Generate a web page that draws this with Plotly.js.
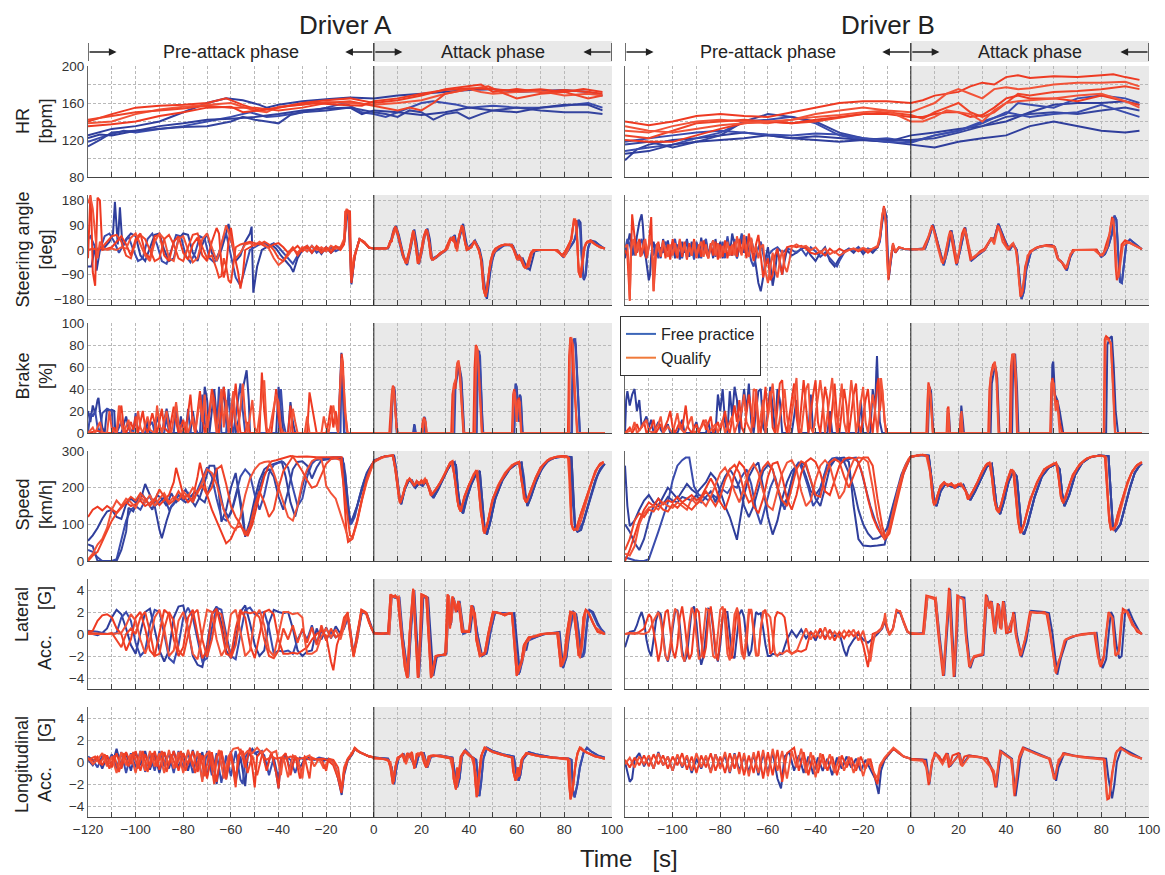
<!DOCTYPE html>
<html><head><meta charset="utf-8">
<script src="https://cdn.plot.ly/plotly-3.0.1.min.js"></script>
<style>html,body{margin:0;padding:0;background:#fff}#chart{width:1165px;height:875px}</style>
</head><body><div id="chart"></div>
<script>
// ---------- DATA (flat lists of time, value pairs) ----------
// Heart rate, Driver A
const A_HR_Q1=[-120,140,-110,148,-100,155,-90,157,-80,158,-70,160,-62,165,-55,158,-48,152,-40,155,-30,160,-20,163,-10,165,0,160,10,163,20,168,30,175,40,178,45,180,50,172,60,175,70,172,80,174,90,172,96,170];
const A_HR_Q2=[-120,138,-110,140,-100,148,-90,153,-80,156,-70,158,-60,160,-50,152,-45,150,-40,156,-30,158,-20,161,-10,160,0,158,10,160,20,163,30,170,40,175,45,172,50,170,60,172,70,173,80,168,90,170,96,168];
const A_HR_Q3=[-120,142,-110,146,-100,150,-90,152,-80,154,-70,157,-60,155,-50,155,-40,152,-30,155,-20,160,-10,162,0,157,5,155,10,152,15,155,20,152,25,160,30,170,40,175,48,178,55,170,60,165,70,170,80,172,90,165,96,168];
const A_HR_Q4=[-120,135,-110,137,-100,140,-90,146,-80,150,-70,155,-60,156,-55,150,-45,153,-35,157,-25,160,-15,158,-5,157,0,162,10,165,20,170,30,174,40,176,50,175,60,173,70,175,80,172,88,175,96,172];
const A_HR_F1=[-120,125,-110,132,-100,135,-90,140,-80,150,-70,160,-62,165,-55,163,-48,158,-45,155,-40,158,-30,162,-20,164,-10,166,0,165,10,168,20,170,30,172,40,174,50,175,60,172,70,173,80,174,90,172,96,168];
const A_HR_F2=[-120,118,-112,125,-105,130,-100,128,-90,132,-80,135,-70,140,-60,145,-52,150,-45,145,-40,146,-30,150,-20,155,-12,160,-5,150,0,148,5,145,10,150,15,155,20,160,25,162,30,160,35,158,40,155,50,157,60,155,70,155,80,157,90,160,96,155];
const A_HR_F3=[-120,113,-115,120,-110,128,-100,130,-90,132,-80,134,-70,135,-60,140,-55,145,-50,142,-45,140,-40,138,-35,147,-30,150,-20,152,-10,155,0,150,5,148,10,145,15,152,20,150,25,142,30,148,35,150,40,143,45,148,50,152,60,155,70,152,80,150,90,150,96,148];
const A_HR_F4=[-120,122,-115,126,-110,125,-100,130,-90,135,-80,138,-70,142,-60,143,-50,145,-40,148,-30,152,-20,154,-10,155,-5,148,0,152,10,150,20,147,30,150,40,155,50,152,60,150,70,155,80,158,90,158,96,152];
// Heart rate, Driver B
const B_HR_Q1=[-120,140,-110,136,-100,140,-90,146,-80,148,-70,146,-60,145,-50,150,-40,155,-30,160,-20,162,-10,162,0,160,5,163,10,168,15,170,20,172,25,178,30,182,35,180,40,188,45,190,50,187,60,189,70,188,80,190,85,191,90,188,96,185];
const B_HR_Q2=[-120,130,-110,128,-100,135,-90,140,-80,142,-70,140,-60,138,-50,142,-40,148,-30,152,-20,155,-10,152,0,150,5,155,10,160,15,170,20,175,25,170,30,165,35,175,40,177,45,175,50,176,60,180,70,182,80,182,90,183,96,178];
const B_HR_Q3=[-120,125,-110,122,-100,130,-90,138,-80,140,-70,142,-60,140,-50,138,-40,140,-30,144,-20,148,-10,150,0,147,5,143,10,150,15,155,20,160,25,150,30,145,35,150,40,160,45,170,50,168,60,172,70,173,80,175,90,178,96,175];
const B_HR_Q4=[-120,120,-110,118,-100,118,-90,125,-80,132,-70,138,-60,140,-50,138,-40,142,-30,145,-20,148,-10,148,0,145,5,145,10,148,15,150,20,150,25,145,30,147,35,155,40,165,45,168,50,165,60,165,70,162,80,168,90,162,96,158];
const B_HR_Q5=[-120,135,-110,130,-100,128,-90,132,-80,136,-70,138,-60,140,-50,142,-40,145,-30,147,-20,150,-10,152,0,140,5,140,10,145,15,152,20,150,25,148,30,140,35,152,40,160,45,162,50,163,60,165,70,168,80,170,90,162,96,155];
const B_HR_F1=[-120,98,-115,110,-110,115,-100,120,-90,122,-80,125,-70,128,-60,125,-50,122,-40,124,-30,122,-20,120,-10,118,0,125,10,128,20,132,30,135,40,140,45,145,50,150,60,158,70,160,80,160,90,162,96,158];
const B_HR_F2=[-120,108,-110,112,-100,115,-90,122,-80,128,-70,140,-60,142,-50,145,-40,138,-30,125,-20,120,-10,122,0,118,10,125,20,130,30,140,40,148,45,160,50,158,60,155,70,165,80,168,90,165,96,160];
const B_HR_F3=[-120,115,-110,118,-100,112,-90,118,-80,125,-70,140,-60,148,-50,145,-40,140,-30,128,-20,122,-10,120,0,120,10,122,20,128,30,135,40,145,50,148,60,150,70,148,80,152,90,155,96,152];
const B_HR_F4=[-120,105,-110,108,-100,115,-90,118,-80,120,-70,122,-60,125,-50,122,-40,120,-30,118,-20,120,-10,118,0,115,10,112,20,118,30,122,40,125,50,135,60,140,70,135,80,130,90,128,96,130];
const B_HR_F5=[-120,118,-110,122,-100,125,-90,128,-80,130,-70,128,-60,126,-50,125,-40,127,-30,126,-20,122,-10,118,0,117,10,125,20,130,30,138,40,150,50,145,60,148,70,150,80,158,90,150,96,145];

// Steering angle, Driver A (pre-attack / attack)
const A_ST_Qp1=[-120,-30,-119.5,120,-119,200,-118.5,100,-118,-80,-117,-130,-116.5,20,-116,190,-115,180,-114.5,60,-114,0,-112,5,-110,10,-108,30,-106,50,-104,20,-102,-20,-100,40,-98,60,-96,-10,-94,-30,-92,50,-90,55,-88,-20,-86,-40,-84,30,-82,50,-80,-10,-78,-35,-76,20,-74,45,-72,-20,-70,-40,-68,30,-66,80,-65,60,-64,-50,-63,-100,-62,-60,-61,30,-60,80,-59,20,-58,-40,-57,-80,-56,-140,-55,-90,-54,0,-52,10,-50,20,-48,25,-46,15,-44,10,-42,20,-40,25,-38,10,-36,-10,-34,0,-32,15,-30,-5,-28,10,-26,-10,-24,15,-22,0,-20,10,-18,-10,-16,10,-14,0,-12.5,20,-12,140,-11,145,-10,140,-9.4,-120,-8,-20,-6,40,-4,30,-2,10,0,5];
const A_ST_Qp2=[-120,170,-119,195,-118,150,-117,60,-116,-30,-115,30,-114,10,-112,0,-110,5,-108,0,-106,10,-104,5,-102,45,-100,60,-98,20,-96,-20,-94,-40,-92,30,-90,60,-88,40,-86,-30,-84,-40,-82,40,-80,50,-78,0,-76,-45,-74,-30,-72,40,-70,60,-68,10,-66,-40,-64,20,-62,90,-60,40,-58,-30,-56,-10,-54,20,-52,25,-50,15,-48,30,-46,20,-44,5,-42,-30,-40,-55,-38,-40,-36,-20,-34,5,-32,-10,-30,10,-28,-5,-26,15,-24,0,-22,10,-20,-5,-18,15,-16,5,-14,10,-12.5,40,-11.5,150,-10.5,130,-9.6,-100,-8.5,-30,-6,40,-4,28,-2,8,0,5];
const A_ST_Qp3=[-120,0,-118,5,-116,0,-114,10,-112,30,-110,50,-108,55,-106,30,-104,-20,-102,-30,-100,30,-98,55,-96,40,-94,0,-92,-40,-90,-30,-88,40,-86,55,-84,20,-82,-30,-80,-40,-78,10,-76,55,-74,60,-72,10,-70,-30,-68,-20,-66,-70,-65,-100,-64,-95,-63,-30,-62,-60,-61,-110,-60,-120,-59,-60,-58,10,-56,20,-54,25,-52,30,-50,25,-48,20,-46,30,-44,20,-42,0,-40,-30,-38,-40,-36,-10,-34,10,-32,-20,-30,5,-28,15,-26,-5,-24,10,-22,-10,-20,5,-18,0,-16,15,-14,5,-12.3,30,-11.3,145,-10.3,135,-9.5,-110,-8,-25,-6,38,-4,25,-2,8,0,5];
const A_ST_Fp1=[-120,-60,-118.5,-60,-117,20,-116.4,-75,-115,0,-113,10,-111,30,-109.5,60,-108.7,175,-107.5,20,-106.6,155,-105.5,10,-104,40,-102,60,-100,50,-98,-20,-96,-40,-94,10,-92,55,-90,60,-88,0,-86,-40,-84,-30,-82,40,-80,60,-78,55,-76,-10,-74,-40,-72,20,-70,60,-68,-10,-66,-40,-64,0,-62,60,-61,95,-60,40,-58,-40,-56,-20,-54,30,-52,60,-51.3,85,-50.6,-155,-49,-60,-47,0,-45,10,-43,20,-41,5,-39,-20,-37,-40,-35,-60,-33.8,-80,-32,-30,-30,0,-28,15,-26,-10,-24,10,-22,-15,-20,10,-18,-10,-16,5,-14,10,-12.5,25,-11.5,120,-10.8,140,-9.4,-125,-8,-20,-6,40,-4,28,-2,8,0,5];
const A_ST_Fp2=[-120,40,-119,50,-117,10,-115,0,-113,50,-111,60,-109,30,-107,-10,-105,20,-103,50,-101,0,-99,-40,-97,-30,-95,40,-93,60,-91,20,-89,-40,-87,-50,-85,0,-83,55,-81,50,-79,-20,-77,-45,-75,-10,-73,50,-71,40,-69,-30,-67,-45,-65,-10,-63,50,-62,60,-60,-20,-58,-100,-56,-130,-54,-60,-52,0,-50,10,-48,20,-46,25,-44,15,-42,25,-40,10,-38,-10,-36,-30,-34,-50,-32,-20,-30,10,-28,-5,-26,15,-24,-10,-22,5,-20,-5,-18,10,-16,-5,-14,5,-12.5,30,-11.2,135,-10.3,120,-9.3,-115,-8,-20,-6,40,-4,28,-2,8,0,5];
const A_ST_Qa1=[0,5,5,5,6,10,7,35,7.5,30,8,60,9,85,10,60,12,-10,13.5,-50,15,0,16.5,70,17.5,20,18.5,-50,19.5,-20,21,50,22,75,23,40,24,-30,25,-35,27,-20,28,-10,30,0,32,40,33,35,33.5,50,34.5,5,35.5,40,37,90,38,40,39,0,41,10,42,30,43,20,44,0,45,-30,46,-140,47,-170,48,-100,49,-40,50,-10,51,5,53,15,55,20,58,18,59,-5,60,-30,61,-20,62,-40,63,-60,64,-65,65,-40,66,-10,67,0,70,0,75,2,77,0,79,-20,80,-10,81,5,82,20,83,40,84,110,85,105,85.5,20,86,-80,86.8,-100,87.5,-50,88.5,10,89.5,30,91,35,93,20,95,10,97,5];
const A_ST_Qa2=[0,5,5.5,5,6.5,15,7.5,40,9.5,80,10.5,40,12.5,-30,14,-48,15.5,20,16.8,68,18,0,19,-48,20.5,10,21.5,60,22.5,70,24.5,-35,26,-28,29,-10,31,5,32.5,45,34,25,35,-5,36,60,37.5,85,38.5,20,40,5,42.5,30,44,5,45.5,-60,46.5,-160,47.5,-150,48.5,-70,50,-15,52,8,54,18,57,20,59,0,60.5,-35,62,-30,63.5,-65,65,-60,66.5,-10,68,0,76,0,78.5,-15,80,-25,81.5,0,82.5,25,83.5,80,84.5,115,85.2,60,85.8,-50,86.5,-90,87.2,-60,88,0,89,25,91,30,94,15,97,5];
const A_ST_Fa1=[0,5,6,8,7.5,38,9.3,88,10.5,55,12.5,-20,14,-55,15.5,5,17,75,18,25,19,-52,20,-15,21.5,55,22.5,78,23.5,40,24.5,-35,26,-30,28,-15,30.5,0,32.5,45,33.5,40,34,55,35,5,36,45,37.5,95,38.5,45,39.5,0,42.5,35,43.5,20,44.5,0,45.5,-40,46.5,-150,47.5,-178,48.5,-110,49.5,-40,51,-5,53,15,58,20,59.5,-5,61,-35,62.5,-30,64,-60,65.5,-72,66.5,-40,67.5,-5,70,0,77,0,79.5,-25,81,-10,82.5,10,84,30,85,60,86,110,86.8,100,87.5,-40,88.2,-110,89,-90,90,10,91,35,93,30,95,15,97,5];
const A_ST_Fa2=[0,5,6,5,7,30,8.5,80,9.5,70,12,-20,13.8,-52,16.8,72,18.8,-50,21.3,55,22.3,72,24.3,-32,27,-20,30,-2,32,35,33.8,52,34.8,5,37.3,92,39,5,42.3,32,44.3,5,46.3,-120,47.3,-172,48.5,-90,50.5,-10,55,18,58.5,15,60.3,-30,61.5,-25,63.3,-55,64.5,-70,66,-20,67.5,0,77,0,79,-20,80.5,-15,82,5,84.5,40,85.8,108,86.5,90,87.2,-20,88,-105,88.8,-95,89.8,0,91,30,93,28,96,10,97,5];
// Steering angle, Driver B
const B_ST_Qp1=[-120,0,-119,-20,-118,-180,-117.5,-60,-117,130,-116,50,-115,-10,-114,40,-113,-20,-112,35,-111,-30,-110,20,-109,120,-108.5,-40,-108,-150,-107,-20,-106,30,-105,-25,-104,35,-103,-30,-102,20,-101,-35,-100,40,-99,0,-98,-30,-97,35,-96,-25,-95,30,-94,-35,-93,25,-92,-20,-91,40,-90,-30,-89,20,-88,-25,-87,35,-86,-10,-85,-30,-84,25,-83,-20,-82,30,-81,-35,-80,20,-79,-25,-78,35,-77,-30,-76,15,-75,-20,-74,30,-73,-25,-72,40,-71,-10,-70,30,-69,-30,-68,60,-67,10,-66,-40,-65,20,-64,55,-63,-20,-62,-100,-61,-60,-60,-30,-59,-110,-58,-90,-57,-20,-56,5,-55,-50,-54,-90,-53,-20,-52,10,-50,15,-48,10,-46,15,-44,5,-42,-10,-40,-15,-38,-5,-36,-20,-34,5,-32,-10,-30,5,-28,-5,-26,0,-24,5,-22,-5,-20,5,-18,-10,-16,5,-14,10,-13,40,-12,120,-11.3,160,-10.5,100,-9.8,-50,-9.4,-110,-8.5,-40,-7.5,20,-6.5,-10,-5,10,-3,5,0,2];
const B_ST_Qp2=[-120,10,-119,20,-118.5,-50,-118,-185,-117.5,0,-116.5,40,-115.5,-20,-114.5,30,-113.5,-25,-112.5,10,-111.5,40,-110.5,-20,-109.5,50,-108.5,0,-108,-150,-107.5,-30,-106.5,25,-105,-20,-104,30,-102,-25,-101,20,-100,-20,-99,25,-98,-20,-97,40,-96,-10,-95,20,-94,-30,-93,10,-92,-20,-91,30,-90,-25,-89,10,-88,30,-87,-25,-86,20,-85,-30,-84,10,-83,35,-82,-20,-81,25,-80,-30,-79,15,-78,-10,-77,30,-76,-20,-75,20,-74,-20,-73,50,-72,5,-71,-20,-70,55,-69,0,-68,-25,-67,45,-66,-10,-65,15,-64,-30,-63,10,-62,20,-61,-80,-60,-120,-59,-60,-58,-10,-57,-70,-56,-100,-55,-40,-54,0,-53,-60,-52,-80,-51,-40,-50,10,-48,20,-46,10,-44,15,-42,0,-40,10,-38,-10,-36,5,-34,-15,-32,-5,-30,-20,-28,-10,-26,0,-24,5,-22,0,-20,8,-18,0,-16,5,-14,15,-13,50,-12,130,-11.2,155,-10.5,90,-10,-30,-9.5,-100,-8.5,-30,-7.5,25,-6.5,-5,-5,10,-3,5,0,2];
const B_ST_Fp1=[-120,-30,-119,20,-118,60,-117,10,-116,-20,-115,50,-114,100,-113,130,-112.5,90,-112,20,-111,-40,-110,-110,-109.5,-90,-109,-20,-108,30,-107,-10,-106,20,-105,-30,-104,40,-103,-10,-102,35,-101,-20,-100,30,-99,-30,-98,20,-97,-35,-96,30,-95,-10,-94,40,-93,-25,-92,30,-91,-20,-90,25,-89,-30,-88,45,-87,-10,-86,30,-85,-25,-84,20,-83,-30,-82,40,-81,-20,-80,30,-79,-30,-78,10,-77,40,-76,-20,-75,60,-74,20,-73,-30,-72,10,-71,40,-70,-10,-69,50,-68,-20,-67,40,-66,0,-65,-60,-64,-120,-63,-150,-62,-100,-61,-30,-60,10,-59,-50,-58,-130,-57,-80,-56,0,-55,-40,-54,-90,-53,-40,-52,0,-50,-20,-48,-10,-46,5,-44,10,-42,-20,-40,-40,-38,-10,-36,10,-34,-40,-32,-60,-30,-30,-28,-5,-26,5,-24,-10,-22,10,-20,-15,-18,5,-16,-10,-14,10,-13,35,-12,100,-11,150,-10.2,120,-9.8,20,-9.3,-105,-8.5,-50,-7.5,15,-6.5,-10,-5,8,-3,5,0,2];
const B_ST_Fp2=[-120,0,-119,40,-118,20,-117,-20,-116,30,-115,-10,-114,20,-113,40,-112,-10,-111,-30,-110,10,-109,40,-108,-20,-107,20,-106,-30,-105,10,-104,-10,-103,30,-102,10,-101,-25,-100,20,-99,40,-98,-10,-97,25,-96,-30,-95,15,-94,35,-93,-20,-92,10,-91,-35,-90,30,-89,0,-88,-30,-87,25,-86,40,-85,-15,-84,10,-83,35,-82,-25,-81,20,-80,-10,-79,30,-78,-30,-77,50,-76,0,-75,-20,-74,40,-73,-30,-72,20,-71,60,-70,10,-69,-20,-68,0,-67,-40,-66,-60,-65,-20,-64,10,-63,30,-62,-20,-61,-60,-60,-20,-58,0,-56,10,-54,-10,-52,5,-50,0,-48,-10,-46,5,-44,-20,-42,10,-40,-5,-38,-25,-36,-10,-34,-30,-32,-50,-31,-60,-30,-40,-28,-10,-26,5,-24,0,-22,10,-20,-5,-18,5,-16,0,-14,8,-13,30,-12,110,-11.3,155,-10.5,110,-9.8,0,-9.3,-100,-8.5,-45,-7.5,20,-6.5,-8,-5,8,-3,4,0,2];
const B_ST_Qa1=[0,2,5,3,6.5,30,7.5,50,9,90,10.5,50,12.5,-20,13.5,-50,15,10,16.5,70,17.5,20,19,-50,20.5,0,21.5,60,22.5,80,24,10,25,-35,27,-25,29,-5,31,5,33.5,40,34.5,30,35.5,50,36.5,90,37.5,70,39,40,41,0,42.5,20,44,5,45,-60,46,-170,47,-150,48,-60,50,-5,53,10,57,18,60,15,61.5,-30,63,-40,65,-70,66.5,-30,68,0,78,2,79.5,-20,81,-10,82,20,83.5,60,84.5,120,85.3,80,86,-60,86.5,-110,87.5,-70,88.5,20,90,35,92,25,95,10,97,3];
const B_ST_Qa2=[0,3,5.5,3,7,35,8.5,80,9.5,75,11,20,13,-45,14.5,-30,16,55,17,65,18.5,-10,19.5,-48,21,30,22.8,75,23.5,50,25.5,-30,28,-15,31,0,33,30,34,45,35,20,36,60,37,85,38.5,30,40.5,5,43,25,44.5,-10,45.5,-120,46.5,-165,47.5,-100,49,-20,52,5,56,15,60.5,10,62,-35,64,-50,65.5,-65,67,-15,69,0,77,0,79,-15,80.5,-20,82.5,10,84,90,85,115,85.8,40,86.5,-80,87.2,-100,88,-40,89,15,91,30,94,15,97,3];
const B_ST_Fa1=[0,2,6,5,7.5,40,9.3,92,11,40,13.8,-55,15.5,0,17,72,18,30,19.3,-55,21,10,22.8,82,24,20,25.5,-38,28,-20,31,0,33.8,42,35,40,36.8,95,38,65,39.5,35,41.5,0,43,22,44.5,0,45.5,-80,46.5,-178,47.5,-150,48.5,-70,50.5,-5,54,12,59,18,60.5,10,62,-35,63.5,-45,65.5,-75,67,-25,68.5,0,78,0,80,-25,81.5,-15,83,15,84.5,60,85.5,125,86.3,110,87,0,87.8,-115,88.6,-120,89.5,-40,90.5,25,92,38,94,25,97,3];

// Brake, Driver A
const A_BR_Qp1=[-120,0,-116,2,-113,0,-110,0,-109,5,-108,0,-106,25,-105,5,-104,0,-102,10,-101,3,-100,15,-99,0,-97,20,-96,5,-95,0,-93,18,-92,10,-91,0,-89,22,-88,5,-86,0,-84,24,-83,10,-82,0,-80,12,-79,0,-77,35,-76,10,-75,0,-73,38,-72,15,-71,0,-69,20,-68,40,-67,30,-66,5,-65,0,-63,42,-62,25,-61,5,-60,0,-58,45,-57,20,-56,0,-54,0,-53,10,-52,0,-48,0,-47,55,-46,20,-45,0,-43,0,-42,20,-41,40,-40,15,-39,0,-36,0,-35,25,-34,0,-28,0,-27,37,-26,25,-25,10,-24,0,-20,0,-19,10,-18,25,-17,5,-16,20,-15,0,-14,50,-13.5,72,-13,65,-12.2,20,-11.5,10,-11,0,0,0];
const A_BR_Qp2=[-120,0,-118,5,-117,0,-115,10,-114,0,-112,0,-111,20,-110,3,-108,0,-107,25,-106,8,-105,0,-103,12,-102,0,-100,0,-99,20,-98,5,-97,0,-95,15,-94,3,-92,0,-91,25,-90,8,-89,0,-87,20,-86,5,-85,0,-83,28,-82,8,-81,0,-79,10,-78,0,-76,15,-75,0,-73,30,-72,10,-71,35,-70,0,-68,35,-67,15,-66,0,-64,40,-63,5,-62,30,-61,0,-59,38,-58,10,-57,0,-55,45,-54,15,-53,0,-51,30,-50,5,-49,0,-46,48,-45,5,-44,0,-41,35,-40,28,-39,5,-38,0,-35,0,-34,22,-33,10,-32,0,-29,0,-28,15,-27,0,-22,0,-21,15,-20,5,-19,0,-17,25,-16,10,-15,0,-14,45,-13.5,68,-12.8,50,-12,15,-11.5,5,-11,0,0,0];
const A_BR_Fp1=[-120,20,-119,10,-118,25,-117,18,-116,30,-115.6,32,-115,20,-114,5,-113,0,-112,22,-111,20,-110,21,-109,20,-108.5,0,-106,0,-104,15,-103,5,-102,0,-100,10,-99,0,-96,0,-95,12,-94,0,-92,0,-91,15,-90,8,-89,0,-87,22,-86,10,-85,0,-82,0,-81,15,-80,0,-77,0,-76,20,-75,5,-74,0,-72,0,-71,42,-70,30,-69,0,-67,40,-66,15,-65,0,-63,42,-62,10,-61,0,-59,35,-58,0,-56,20,-55,40,-54,50,-53.4,57,-52.5,30,-52,0,-41,0,-40,42,-39,20,-38,0,-36,0,-35,28,-34,10,-33,0,-15,0,-14,55,-13.6,73,-13,40,-12.5,0,0,0];
const A_BR_Fp2=[-120,0,-119,18,-118,15,-117,20,-116,5,-115,0,-114,18,-113,20,-112,22,-111,21,-110,20,-109.5,0,-108,0,-106,10,-105,0,-101,0,-100,18,-99,0,-96,0,-95,5,-93,10,-92,0,-88,0,-87,15,-86,0,-84,0,-83,25,-82,0,-79,0,-78,22,-77,0,-73,0,-72,35,-71,10,-70,0,-66,0,-65,42,-64,0,-62,0,-61,40,-60,10,-59,0,-57,30,-56,45,-55,20,-54,0,-40,0,-39,40,-38,10,-37,0,-14,0,-13.5,70,-13,55,-12.3,0,0,0];
const A_BR_Qa1=[0,0,6.5,0,7.5,35,8,43,8.5,40,9.5,5,10,0,20,0,20.5,10,21,14,21.5,12,22,0,32.5,0,33,35,33.8,45,34.3,40,34.8,60,35.3,65,35.8,62,36.5,40,37.2,10,37.6,0,41.8,0,42.3,60,42.8,80,43.3,78,44,60,45,20,45.5,0,58,0,58.5,35,59,40,59.5,30,60,15,60.5,30,61,32,61.5,15,62,0,81.5,0,82,70,82.5,87,83,85,83.5,60,84.5,30,85.5,0,97,0];
const A_BR_Qa2=[0,0,7,0,7.8,40,8.3,42,9,20,9.8,0,20.5,0,21,13,21.8,10,22.2,0,33.2,0,33.6,44,34.5,50,35,63,35.6,66,36.2,55,37,25,37.8,0,42.5,0,43,79,43.6,76,44.5,40,45.3,0,58.3,0,58.8,38,59.3,36,60,10,60.8,30,61.3,28,61.8,0,82,0,82.4,85,83,86,83.6,80,84.5,40,85.3,0,97,0];
const A_BR_Fa1=[0,0,7,0,8,38,8.6,42,9.5,10,10,0,16.5,0,17,8,17.5,0,20.5,0,21.2,15,22,0,33.5,0,34,45,35,52,35.5,58,36,60,36.8,50,37.5,20,38,0,43,0,43.6,75,44.3,74,45,40,45.8,0,58.8,0,59.5,45,60,42,60.6,20,61.3,35,61.8,30,62.5,0,83,0,83.6,82,84.2,86,84.8,80,85.8,40,86.5,0,97,0];
const A_BR_Fa2=[0,0,7.3,0,8,40,8.8,38,9.6,0,16.8,0,17.2,7,17.6,0,21,0,21.5,14,22.2,0,33.8,0,34.3,42,35.3,55,36,58,36.8,45,37.8,0,43.2,0,43.8,74,44.6,70,45.6,10,46,0,59,0,59.6,44,60.3,30,61,10,61.6,34,62.4,0,83.2,0,83.8,84,84.6,85,85.5,50,86.5,0,97,0];
// Brake, Driver B
const B_BR_Qp1=[-120,0,-118,5,-117,0,-115,8,-114,2,-112,10,-111,0,-109,5,-108,12,-107,0,-105,8,-104,2,-102,12,-101,20,-100,5,-99,0,-97,10,-96,3,-94.5,25,-93.5,5,-92,0,-90,8,-89,0,-87,12,-86,3,-84,15,-83,0,-81,10,-80,2,-78,20,-77,5,-76,0,-74,25,-73,10,-72,30,-71,5,-70,0,-68,35,-67,20,-66,5,-65,40,-64,10,-63,0,-61,42,-60,15,-59,38,-58,5,-57,0,-55,45,-54,48,-53,10,-52,0,-50,30,-49,45,-48,15,-47,0,-45,48,-44,20,-43,0,-41,35,-40,48,-39,10,-38,0,-36,42,-35,30,-34,0,-32,45,-31,15,-30,0,-28,40,-27,25,-26,0,-24,35,-23,45,-22,10,-21,0,-19,30,-18,40,-17,15,-16,0,-15,25,-14,45,-13.5,50,-13,20,-12,40,-11,10,-10,0,0,0];
const B_BR_Qp2=[-120,0,-117,3,-116,10,-115,0,-113,5,-111,12,-110,2,-108,0,-106,8,-105,15,-104,0,-102,6,-100,0,-98,18,-97,5,-95,0,-93,10,-92,15,-91,0,-88,5,-86,12,-85,0,-82,8,-81,0,-79,12,-78,0,-75,15,-74,0,-71,20,-70,35,-69,10,-67,0,-66,40,-65,38,-64,0,-62,30,-61,0,-58,45,-57,20,-56,0,-53,40,-52,15,-51,0,-48,50,-47,5,-46,0,-44,40,-43,45,-42,5,-41,0,-38,48,-37,30,-36,0,-33,50,-32,20,-31,0,-29,45,-28,10,-27,0,-25,48,-24,30,-23,0,-20,42,-19,10,-18,0,-16,35,-15,20,-14,0,-13,30,-12.5,50,-12,40,-11,10,-10.5,0,0,0];
const B_BR_Fp1=[-120,0,-119.5,30,-119,38,-118,25,-117,35,-116,40,-115,20,-114,30,-113,5,-112,10,-111,15,-110,5,-109,12,-108,0,-106,10,-105,3,-104,0,-102,8,-101,0,-98,0,-96,12,-95,0,-92,0,-90,10,-89,0,-86,0,-85,10,-84,0,-82,0,-81,35,-80,20,-79,40,-78,10,-77,0,-76,38,-75,15,-74,42,-73,30,-72,0,-70,40,-69,20,-68,45,-67,10,-66,0,-64,38,-63,40,-62,5,-61,0,-59,42,-58,25,-57,0,-56,40,-55,30,-54,0,-50,0,-48,30,-47,0,-43,0,-42,35,-41,0,-35,0,-34,20,-33,0,-22,0,-21,30,-20,0,-17,0,-16,40,-15,20,-14.5,55,-14.2,70,-13.8,45,-13,10,-12,0,0,0];
const B_BR_Qa1=[0,0,6.5,0,7,30,7.4,46,8,40,8.8,10,9.3,0,15,0,15.4,22,15.8,24,16.3,0,20.5,0,21,18,21.5,0,32.5,0,33,40,33.8,55,34.5,62,35.2,64,36,55,36.5,20,37,0,41.5,0,42,60,42.6,72,43.3,70,44,40,44.6,0,58.5,0,59,45,59.5,50,60.2,40,61,25,61.5,30,62.5,10,63.5,0,81,0,81.4,85,82,88,83,86,84,80,85,40,85.8,0,97,0];
const B_BR_Qa2=[0,0,7,0,7.5,44,8.3,35,9.2,0,15.2,0,15.7,22,16.2,0,20.8,0,21.3,20,21.8,0,33,0,33.5,50,34.3,58,35.3,65,36,45,36.8,0,42,0,42.5,70,43.5,72,44.2,50,44.8,0,58.8,0,59.3,48,60,45,60.8,20,61.5,28,62.5,0,81.2,0,81.8,86,82.8,85,84,82,85,30,85.7,0,97,0];
const B_BR_Fa1=[0,0,7.2,0,7.8,42,8.5,38,9.5,0,15.5,0,16,18,16.5,0,20.7,0,21.2,25,21.8,12,22.3,0,33.5,0,34,45,34.8,55,35.5,60,36.3,50,37.2,0,42.5,0,43,68,43.8,72,44.6,40,45.2,0,59,0,59.4,62,59.8,65,60.5,35,61.5,30,62.5,20,64,0,82,0,82.5,80,83.5,86,84.4,88,85.2,60,86,20,87,0,97,0];

// Speed, Driver A
const A_SP_Qp1=[-120,120,-118,140,-116,148,-114,138,-112,150,-110,140,-108,132,-106,148,-104,160,-102,150,-100,155,-98,165,-96,150,-94,158,-92,170,-90,152,-88,165,-86,180,-84,215,-83,254,-82,230,-80,180,-78,160,-76,172,-74,230,-73,268,-72,240,-70,180,-68,140,-66,110,-64,75,-62,48,-60,60,-58,90,-56,95,-54,80,-53,68,-51,100,-48,180,-46,230,-44,262,-43,272,-41,275,-38,280,-35,286,-32,284,-28,285,-24,283,-20,283,-16,284,-13.5,283,-12.5,180,-11.5,80,-10.8,52,-9,60,-7,110,-5,170,-3,220,-1,255,0,270];
const A_SP_Qp2=[-120,5,-118,20,-116,45,-114,60,-112,90,-110,140,-108,165,-106,150,-104,170,-102,160,-100,145,-98,175,-96,160,-94,180,-92,150,-90,170,-88,185,-86,160,-84,175,-82,165,-80,190,-78,175,-76,200,-74,185,-72,215,-70,250,-68,240,-66,210,-64,160,-62,120,-60,95,-58,85,-56,120,-54,180,-52,225,-50,250,-48,265,-46,270,-44,272,-42,240,-40,200,-38,160,-36,120,-34,110,-32,150,-30,215,-28,250,-26,272,-24,280,-22,278,-21,250,-20,205,-18,185,-16,170,-14,130,-12,90,-10.5,58,-9,62,-7,105,-5,165,-3,215,-1,252,0,268];
const A_SP_Qp3=[-120,0,-118,15,-116,25,-114,55,-112,80,-110,110,-108,130,-106,145,-104,160,-102,175,-100,165,-98,185,-96,170,-94,150,-92,165,-90,195,-88,175,-86,155,-84,165,-82,190,-80,170,-78,180,-76,160,-74,190,-72,205,-70,180,-68,200,-66,250,-64,260,-62,210,-60,150,-58,120,-56,100,-54,70,-52,95,-50,150,-48,190,-46,160,-44,120,-42,140,-40,200,-38,245,-36,265,-34,285,-32,265,-30,245,-28,220,-26,200,-24,205,-22,235,-20,265,-18,278,-16,280,-14,275,-12,180,-11,120,-10,70,-9,65,-7,110,-5,170,-3,225,-1,260,0,272];
const A_SP_Fp1=[-120,55,-118,70,-116,90,-114,115,-112,135,-110,140,-108,120,-106,115,-104,155,-102,170,-100,160,-98,165,-96,210,-94,180,-92,150,-90,85,-89,62,-87,110,-85,150,-83,165,-81,170,-79,160,-77,175,-75,190,-73,170,-71,160,-69,200,-67,240,-66,254,-65,180,-64,107,-62,140,-60,200,-58,240,-56,150,-54,66,-52,110,-50,170,-48,220,-46,250,-44,260,-42,265,-40,268,-38.7,272,-37,230,-35,160,-33,121,-31,180,-29,230,-27,260,-25,275,-23,277,-20,280,-17,282,-14,283,-13,280,-12,200,-11,130,-10,98,-9,110,-7,150,-5,195,-3,235,-1,260,0,270];
const A_SP_Fp2=[-120,30,-118,25,-116,10,-114,0,-112,0,-110,0,-108,5,-106,60,-104,110,-102,140,-100,150,-98,140,-96,165,-94,175,-92,150,-90,160,-88,175,-86,140,-84,155,-82,180,-80,165,-78,185,-76,160,-74,195,-72,225,-70,255,-68,230,-66,170,-64,120,-62,110,-60,130,-58,180,-56,230,-54,250,-52,235,-50,180,-48,140,-46,180,-44,240,-42,262,-40,268,-38,270,-36,255,-34,200,-32,150,-30,170,-28,230,-26,265,-24,278,-21,280,-17,282,-14,281,-12.5,265,-11.5,200,-10.5,130,-9.5,100,-8,120,-6,175,-4,220,-2,250,0,270];
const A_SP_Fp3=[-120,45,-118,40,-116,0,-114,0,-112,0,-110,0,-108,0,-106,30,-104,80,-103,145,-101,135,-99,170,-97,180,-95,160,-93,140,-91,180,-89,170,-87,150,-85,185,-83,160,-81,175,-79,195,-77,170,-75,150,-73,175,-71,215,-69,260,-67,260,-65,200,-63,140,-61,120,-59,150,-57,200,-55,130,-54,70,-52,90,-50,150,-48,200,-46,240,-44,250,-42,230,-40,175,-38,140,-36,190,-34,250,-32,270,-30,272,-28,260,-26,225,-24,255,-22,275,-19,278,-16,280,-14,279,-12,240,-11,170,-10,110,-9,115,-7,150,-5,200,-3,240,-1,262,0,270];
const A_SP_Qa1=[0,272,3,282,5,286,8,288,9,250,10.5,175,11,158,12,175,13,200,14,215,15,225,16,215,17,205,18,218,19,210,20,220,21,212,22,222,23,200,24,178,26,195,28,215,30,240,32,268,33,272,34.5,200,35.5,150,36.5,135,38,175,40,208,42,235,43,248,44,200,45,130,46.5,75,48,110,50,170,53,215,56,245,59,265,61,270,62,220,63.5,165,64,160,66,195,68,228,70,255,73,275,76,283,79,286,81,285,82,280,82.5,200,83,100,84,85,85,88,87,130,89,170,91,210,93,245,95,265,96.5,270];
const A_SP_Qa2=[0,270,3,280,5,285,8,287,9.5,240,11,160,12.5,185,14,220,15.5,222,17,208,18.5,215,20,212,21.5,225,23,205,24.5,182,26.5,200,29,228,31,255,32.5,270,34,230,35,165,36,140,37.5,160,39.5,200,42,238,43.5,245,44.5,180,45.5,110,46,80,47.5,95,49.5,160,52,205,55,240,58,262,61,268,62.5,200,63,170,64.5,165,66,190,68,225,71,262,74,280,77,285,80,284,81.5,282,82,230,82.8,110,83.5,88,85.5,85,87,110,89,160,91.5,215,94,255,96.5,268];
const A_SP_Fa1=[0,270,3,282,5,286,8.5,287,9.5,245,11,165,11.5,155,13,195,14.5,218,16,220,17.5,200,19,212,20.5,205,22,218,23.5,195,25,172,27,195,29,222,31,250,33,270,34.5,262,35.5,180,36.5,140,37.5,130,39,170,41,210,43,238,44.5,245,45.5,160,46.5,90,47.5,72,49,110,51,170,54,220,57,250,60,265,62,268,63,200,64.5,150,66,175,68,215,71,258,74,278,77,283,80,284,83,283,83.8,180,84.5,90,85.5,80,87,85,89,130,91,175,93,220,95,250,97,265];
const A_SP_Fa2=[0,275,4,284,8,288,9,255,10.5,180,11.5,160,13,198,15,222,17,202,18.5,215,20,208,21.5,222,23,200,24.5,175,26.5,198,29,225,32,262,34,270,35,210,36,160,37,135,38.5,165,40.5,205,43,240,44,242,45,170,46,100,47,75,48.5,95,50.5,160,53,210,56,245,59,262,62,269,63,230,64,165,65.5,168,67.5,205,70,245,73,272,76,282,80,285,82.5,284,83.5,160,84.5,95,86,88,88,105,90,150,92,195,94,235,96.5,262];
// Speed, Driver B
const B_SP_Qp1=[-120,0,-118,30,-116,70,-114,110,-112,140,-110,160,-108,150,-106,170,-104,155,-102,165,-100,160,-98,175,-96,160,-94,170,-92,180,-90,165,-88,175,-86,200,-84,225,-82,200,-80,160,-78,140,-76,180,-74,240,-72,270,-70,255,-68,200,-66,150,-64,130,-62,170,-60,230,-58,265,-56,270,-54,230,-52,170,-50,140,-48,180,-46,240,-44,270,-42,280,-40,270,-38,240,-36,190,-34,180,-32,220,-30,260,-28,278,-26,282,-24,280,-22,270,-20,230,-18,170,-16,120,-14,90,-12,70,-11,60,-9,85,-7,145,-5,200,-3,245,-1,275,0,285];
const B_SP_Qp2=[-120,20,-118,15,-116,40,-114,100,-112,130,-110,145,-108,150,-106,140,-104,160,-102,150,-100,145,-98,160,-96,150,-94,140,-92,170,-90,155,-88,165,-86,150,-84,175,-82,210,-80,240,-78,255,-76,230,-74,190,-72,160,-70,200,-68,245,-66,265,-64,240,-62,190,-60,150,-58,140,-56,190,-54,240,-52,268,-50,275,-48,250,-46,190,-44,150,-42,165,-40,220,-38,260,-36,275,-34,260,-32,210,-30,170,-28,190,-26,245,-24,275,-22,282,-20,280,-18,270,-16,200,-14,120,-12,75,-11,60,-9,90,-7,150,-5,205,-3,250,-1,278,0,285];
const B_SP_Qp3=[-120,30,-118,60,-116,110,-114,130,-112,120,-110,140,-108,135,-106,155,-104,140,-102,135,-100,155,-98,145,-96,160,-94,150,-92,140,-90,155,-88,170,-86,190,-84,170,-82,150,-80,175,-78,220,-76,250,-74,262,-72,240,-70,190,-68,160,-66,170,-64,220,-62,255,-60,270,-58,250,-56,200,-54,165,-52,150,-50,200,-48,250,-46,272,-44,265,-42,220,-40,180,-38,175,-36,230,-34,268,-32,278,-30,270,-28,230,-26,200,-24,230,-22,265,-20,282,-18,282,-16,260,-14,170,-12,95,-10.5,62,-9,75,-7,130,-5,190,-3,240,-1,272,0,285];
const B_SP_Fp1=[-120,260,-119,150,-118,95,-116,110,-114,140,-112,165,-110,180,-108,160,-106,150,-104,175,-102,200,-100,185,-98,170,-96,190,-94,210,-92,195,-90,185,-88,200,-86,215,-84,240,-82,225,-80,190,-78,150,-76,120,-74,80,-73,58,-72,100,-70,180,-68,230,-66,255,-64,269,-62,200,-60,120,-58,72,-56,110,-54,170,-52,215,-50,245,-48,260,-46,265,-44,230,-42,190,-40,180,-38,200,-36,240,-34,260,-32,275,-30,280,-28,282,-26,270,-24,150,-22,60,-20,42,-17,40,-14,42,-11,45,-9,100,-7,160,-5,200,-3,245,-1,275,0,285];
const B_SP_Fp2=[-120,10,-118,5,-116,2,-114,0,-112,0,-110,5,-108,40,-106,80,-104,120,-102,160,-100,220,-98,260,-96,275,-94.5,282,-93,282,-91,203,-89,180,-87,175,-85,165,-83,180,-81,170,-79,195,-77,185,-75,205,-73,200,-71,230,-69,250,-67,210,-65,140,-63,100,-61,150,-59,200,-57,230,-55,180,-53,140,-51,190,-49,250,-47,270,-45,240,-43,200,-41,150,-39,170,-37,220,-35,265,-33,280,-31,282,-29,270,-27,275,-25,280,-23,282,-21,250,-19,200,-17,150,-15,110,-13,80,-11,60,-9,80,-7,140,-5,195,-3,240,-1,272,0,285];
const B_SP_Fp3=[-120,100,-118,80,-116,50,-114,30,-112,60,-110,110,-108,150,-106,170,-104,155,-102,175,-100,165,-98,160,-96,175,-94,170,-92,165,-90,180,-88,160,-86,175,-84,190,-82,160,-80,200,-78,230,-76,250,-74,230,-72,200,-70,150,-68,120,-66,150,-64,200,-62,245,-60,262,-58,250,-56,200,-54,150,-52,170,-50,220,-48,255,-46,270,-44,260,-42,220,-40,170,-38,150,-36,200,-34,255,-32,275,-30,280,-28,270,-26,240,-24,200,-22,140,-20,100,-18,75,-16,60,-14,62,-12,70,-10,90,-8,140,-6,190,-4,235,-2,265,0,285];
const B_SP_Qa1=[0,285,3,288,5,290,7,286,8,250,9.2,170,9.8,152,11,175,12.5,205,14,215,15.5,205,17,212,18.5,200,20,210,21.5,205,23,190,24,168,26,190,28,215,30,245,32,265,33,268,34,230,35,170,36,140,37,132,38.5,170,40.5,220,42,248,43,245,44,180,45,110,46,76,47.5,100,50,165,53,215,56,250,59,262,61,268,62,230,63,175,64,158,66,195,68,235,71,265,74,280,77,286,80,287,81.5,285,82.5,200,83.3,110,84,86,85.5,90,87,130,89,175,91,215,93,245,95,262,97,270];
const B_SP_Qa2=[0,283,4,290,6.5,287,8.5,230,9.5,160,10.5,158,12,195,14,212,16,208,18,205,19.5,208,21,212,23,192,24.5,172,26.5,195,29,230,31.5,262,33.5,266,34.5,210,35.5,155,36.5,135,38,155,40,210,42.5,250,43.5,240,44.5,160,45.5,95,46.5,78,48,110,51,180,54,228,57,255,60,266,61.5,262,62.5,205,63.5,162,65,170,67,215,70,255,73,276,76,285,80,288,82,283,83,150,84,92,85,85,86.5,100,88.5,150,90.5,200,92.5,238,94.5,258,97,268];
const B_SP_Fa1=[0,284,4,289,7.5,287,8.8,220,9.8,162,10.8,150,12.5,190,14.5,210,16.5,205,18.5,200,20.5,205,22,208,23.5,185,25,166,27,190,29.5,225,32,258,34,265,35,200,36,150,37.5,128,39,160,41,215,43,245,44.5,230,45.5,150,46.5,85,47.5,72,49,100,52,175,55,230,58,255,61,265,62.5,250,63.5,185,64.5,150,66.5,180,69,235,72,268,75,282,79,288,83,286,84,180,84.8,95,86,82,88,100,90,150,92,200,94,240,96,260,97,266];

// Lateral acceleration, Driver A
const A_LA_Qp1=[-120,0.2,-118,0.3,-116,1.2,-114,1.7,-112,1.8,-110,1.5,-108,0.5,-106,0,-104,-1.5,-102,-0.5,-100,1.5,-98,2,-96,0.5,-94,-1.5,-92,-2,-90,0,-88,2.2,-86,1.8,-84,-0.5,-82,-2,-80,-1.2,-78,1.5,-76,2.2,-74,0,-72,-2.2,-70,-1.5,-68,1.8,-66,2.3,-64,0.5,-62,-1.8,-60,-2,-58,0.5,-56,2.2,-54,1.5,-52,-1,-50,-2.2,-48,0,-46,2,-44,2.2,-42,1.8,-40,-0.5,-38,-1.8,-36,-1.8,-34,-1.7,-32,-1.8,-30,-1.5,-28,-1.2,-26,-0.5,-24,0,-22,0.3,-20,-0.2,-18,-2.5,-17,-3.3,-15.5,-1,-14,0,-12.5,1.2,-11,2,-9.8,0,-8.5,-2,-7,0,-5.2,2.2,-3.5,2,-2,1,0,0.1];
const A_LA_Qp2=[-120,0,-110,0,-106,0.1,-104,0.8,-102,1.8,-100,1.2,-98,-0.5,-96,-1.8,-94,-0.5,-92,1.5,-90,2.2,-88,0.5,-86,-2,-84,-1.5,-82,1.2,-80,2,-78,0.5,-76,-1.8,-74,-2.3,-72,0,-70,2.2,-68,2,-66,-0.5,-64,-2,-62,-1.2,-60,1.8,-58,2.2,-56,0.2,-54,-2,-52,-1.5,-50,1.5,-48,2.2,-46,0.8,-44,-1.5,-42,-2,-40,0,-38,2,-36,2,-34,1.8,-32,1.9,-30,1.5,-29,-0.5,-28,-1.8,-26,-1.8,-24,-1.5,-22,-0.2,-20,0.5,-18,-0.3,-16,0.4,-14,-0.5,-12.5,0.6,-11,1.8,-10,0.5,-8.5,-2.1,-7,-0.5,-5.2,2.1,-3,1.8,-1.5,0.8,0,0.1];
const A_LA_Qp3=[-120,0.1,-115,0,-112,0,-110,0.1,-108,-0.5,-106,-1.2,-104,0,-102,0.5,-100,0,-98,1.5,-96,2,-94,0.2,-92,-2,-90,-1.8,-88,0.5,-86,2,-84,1.2,-82,-1.5,-80,-2,-78,0,-76,1.8,-74,2.2,-72,-0.5,-70,-2.1,-68,-0.5,-66,2,-64,1.8,-62,-0.5,-60,-2.2,-58,-1,-56,1.8,-54,2,-52,1.9,-50,2,-48,1.5,-46,-0.5,-44,-2,-42,-2.2,-40,-1.5,-38,0.5,-36,-0.5,-34,0.8,-32,-0.8,-30,0.5,-28,-0.8,-26,0.6,-24,-1,-22,0.8,-20,-0.6,-18,0.5,-16,-0.3,-14,0,-12.5,1.5,-11,1.9,-10,0,-8.5,-2,-7,-0.3,-5.2,2.2,-3,1.9,-1,0.5,0,0.1];
const A_LA_Fp1=[-120,0.2,-118,0,-116,-0.1,-114,0.1,-112,0.5,-110,1.5,-108,2.2,-106,1.8,-104,0.5,-102,-1,-100,-1.8,-98,0,-96,2,-94,2.3,-92,0.5,-90,-1.5,-88,-2.5,-86,-1.5,-84,1.5,-82,2.5,-80,2.6,-78,0.5,-76,-2,-74,-2.8,-72,-3,-70,-1,-68,1.8,-66,2.5,-64,1,-62,-1.5,-60,-2.2,-58,-0.5,-56,2,-54,2.6,-52,1,-50,-1,-48,-2,-46,-1.5,-44,1,-42,2.2,-40,2,-38,1.9,-36,2,-34,0.5,-32,-1.5,-30,-2,-28,-1.6,-26,-1.5,-24,0.5,-22,-0.5,-20,0.6,-18,-0.4,-16,0.7,-14,0,-12.5,0.5,-11,1.6,-10,0.6,-8.5,-1.8,-7,-0.5,-5,2,-3,1.9,-1,0.6,0,0.1];
const A_LA_Fp2=[-120,0.3,-116,0.2,-112,0,-110,0,-108,0.1,-106,1.5,-104,2,-102,1.2,-100,-0.8,-98,-2,-96,-1.5,-94,0.8,-92,2.2,-90,2,-88,0,-86,-2.2,-84,-2.6,-82,-1,-80,1.5,-78,2.4,-76,1.5,-74,-0.5,-72,-2.5,-70,-2.2,-68,0.5,-66,2.4,-64,2.2,-62,0,-60,-2,-58,-2.3,-56,0,-54,2.2,-52,2.4,-50,1.8,-48,1.9,-46,2,-44,0.5,-42,-1.8,-40,-1.5,-38,-1.6,-36,-1.5,-34,-1.8,-32,-0.5,-30,0.3,-28,-0.5,-26,0.8,-24,-0.8,-22,0.3,-20,-0.5,-18,0.2,-16,-0.3,-14,0,-12,0.8,-11,1.5,-10,0.2,-8.5,-1.8,-7,0,-5,2,-3,1.8,-1,0.5,0,0.1];
const A_LA_Qa1=[0,0.1,3,0,6,0.1,7,3.6,8,3.4,9,3.5,10,3.2,11.5,0,13,-3,14,-4,15,0,16.5,4.1,17.5,0,18.5,-4,19.5,0,20,3.6,22,3.4,23,0,24,-4,25,-3,26,-2,28,-1.9,30,-1.9,31,3.6,32,0.5,33,3.4,34.5,2,35.5,3,37,0.2,40,0.2,41,2.6,42.5,1.8,43,-0.5,44.5,-2,46.5,-1.8,48,0,50,2,53,1.9,55,1.7,57,1.9,58,1.8,59,-1,60,-3.8,61,-3,62,-2.5,63,-1,65,-0.3,68,-0.2,71,0,77,0.1,78.5,-3,80,-2,81,0,82.5,2,84,1.8,85,0,86,-2,87,-1.5,88,1.5,89,2.2,90,2,92,1,94,0.2,97,0];
const A_LA_Qa2=[0,0,4,0.1,6.5,0,7.5,3.5,9.5,3.3,10.5,3.4,12,-0.5,14.3,-4,15.5,1,16.8,4,17.8,-1,18.8,-4,19.8,1,20.5,3.5,22.5,3.3,23.5,-1,24.5,-3.9,26,-2,29,-1.9,30.5,-1.6,31.5,3.5,32.5,1,33.5,3.2,35,2.2,36,2.8,37.5,0.3,40,0.3,41.5,2.4,43,0,45,-1.9,47,-1.6,48.5,0.2,50.5,2,54,1.8,58,1.9,59,-0.5,60.5,-3.6,62.5,-2.3,64,-0.8,66,-0.3,70,0,77.5,0.1,79,-2.9,80.5,-2.1,82,0.5,83,2,84.5,1.9,85.5,-0.5,86.5,-2.2,87.5,-1,89,2.2,90.5,1.8,93,0.6,97,0];
const A_LA_Fa1=[0,0.1,6.5,0.1,7.5,3.4,10.5,3.2,12,0,14.5,-3.9,15.5,0.5,17,4,18,-0.5,19,-3.9,20.3,1,20.8,3.5,22.8,3.3,24,-1,25,-3.8,26.5,-2,30.5,-1.8,31.5,3.5,32.5,1,33.5,3.3,35,2,36,3,37.8,0.2,40.5,0.2,41.8,2.5,43.5,0,45.5,-2,47.5,-1.7,49,0.2,51,2,55,1.8,59,1.9,60,-0.5,61.3,-3.5,62,-2.5,63,-1.2,64,-1.5,65,-0.5,69,-0.2,72,0,78,0.2,79.5,-3.1,81,-2,82,0.5,83.5,2.1,85,1.8,86,0,87,-2.1,88,-2,89.5,1,90.5,2.2,92,2,94,1,96,0.2,97,0];
const A_LA_Fa2=[0,0,6,0,7.2,3.5,9,3.3,10.8,3.3,12.3,-0.5,14.3,-4,16.8,3.9,18.8,-3.9,20.5,3.4,22.5,3.2,24.3,-3.8,26,-2.1,30,-1.9,31.3,3.3,32.3,0.8,33.3,3.2,34.8,2.1,35.8,2.9,37.5,0,40.3,0.3,41.5,2.6,43.3,0.3,45,-1.9,47.3,-1.8,48.8,0,50.8,1.9,55,1.9,58.5,1.8,59.5,-1,60.8,-3.7,62.3,-2.6,64,-0.7,67,-0.4,71,0,77.8,0.1,79.2,-3,80.8,-2.2,82.3,0.3,83.8,1.9,85.2,1.5,86.5,-0.5,87.5,-2.1,88.5,-1.7,90,2.1,91.5,2,94,0.8,97,0.1];
// Lateral acceleration, Driver B
const B_LA_Qp1=[-120,0,-118,0.1,-116,0,-114,0.2,-112,0.5,-110,1.8,-109,1.5,-108,0.3,-107,-1,-106,-2.5,-105,-1.5,-104,0.5,-103,2,-102,2.2,-101,0.5,-100,-1.5,-99,-2.2,-98,-1,-97,1.5,-96,2.5,-95,1,-94,-1,-93,-2.3,-92,-1.8,-91,0.5,-90,2.3,-89,2,-88,-0.5,-87,-2.2,-86,-1.2,-85,1.5,-84,2.5,-83,0.8,-82,-1.5,-81,-2.4,-80,-0.5,-79,1.8,-78,2.3,-77,0.2,-76,-2,-75,-2.2,-74,0.5,-73,2.4,-72,1.5,-71,-1,-70,-2.3,-69,-1,-68,1.8,-67,2.2,-66,0.5,-65,-1.8,-64,-2,-63,0.5,-62,2,-61,2.2,-60,0.5,-59,-1.8,-58,-1.5,-57,1.5,-56,2,-55,1.9,-54,1.8,-53,1.5,-52,0,-51,-1.5,-50,-1.8,-48,-1.5,-46,-1.6,-44,-1.4,-42,0.2,-40,-0.3,-38,0.5,-36,-0.5,-34,0.4,-32,-0.6,-30,0.2,-28,-0.4,-26,0.3,-24,-0.2,-22,0.2,-20,-1,-19,-2,-18,-3,-17,-1.5,-16,0,-14,0.2,-12.5,0.5,-11,1.4,-10,0.8,-9,0,-7.5,0.5,-6,2.2,-4.5,2,-3,1.2,-1.5,0.3,0,0];
const B_LA_Qp2=[-120,0,-116,0.1,-112,0,-110,0.2,-108,1.2,-106,2,-105,1.2,-104,-0.5,-103,-2,-102,-2.4,-101,-1,-100,1,-99,2.3,-98,2,-97,0,-96,-2,-95,-2.5,-94,-1,-93,1,-92,2.4,-91,1.8,-90,-0.5,-89,-2.3,-88,-2,-87,0.5,-86,2.3,-85,2.2,-84,0,-83,-2,-82,-2.2,-81,0,-80,2.2,-79,2.5,-78,1,-77,-1.8,-76,-2.4,-75,-0.5,-74,1.8,-73,2.3,-72,0.5,-71,-1.8,-70,-2.2,-69,0,-68,2.2,-67,2.2,-66,0,-65,-2,-64,-1.8,-63,0.5,-62,2,-61,1.9,-60,1.8,-59,1.5,-58,0,-57,-1.8,-56,-2,-55,-1.7,-54,-1.8,-52,-1.5,-50,-1.8,-48,-1.6,-46,-0.5,-44,0.5,-42,-0.5,-40,0.3,-38,-0.4,-36,0.6,-34,-0.5,-32,0.2,-30,-0.3,-28,0.3,-26,-0.2,-24,0.4,-22,-0.6,-20,0.3,-18,-1.5,-17,-2.5,-16,-1,-15,0,-13,0.3,-11.5,0.8,-10.8,1.9,-10,0.5,-9,-0.1,-7.5,0.4,-6,2.1,-4.5,2.1,-3,1,-1.5,0.2,0,0];
const B_LA_Fp1=[-120,-1.2,-119,-0.5,-118,0.2,-116,0.3,-115,0.8,-114,1.5,-113,2,-112,1.2,-111,-0.5,-110,-1.5,-109,-2,-108,-0.5,-107,1.2,-106,2,-105,1.8,-104,0,-103,-2,-102,-2.5,-101,-1.5,-100,0.5,-99,2,-98,2.2,-97,0.8,-96,-1.5,-95,-2.5,-94,-2,-93,0,-92,2.2,-91,2.5,-90,1,-89,-1.5,-88,-2.8,-87,-2,-86,0.5,-85,2.3,-84,2.2,-83,0.5,-82,-1.8,-81,-2.5,-80,-1,-79,1.5,-78,2,-77,2,-76,0,-75,-2,-74,-2.2,-73,0,-72,1.8,-71,2.2,-70,1.5,-69,-0.5,-68,-2,-67,-1.5,-66,0.5,-65,2,-64,1.8,-63,1.9,-62,0.5,-61,-1,-60,-2,-59,-2,-58,-1.8,-56,-1.9,-54,-1.8,-52,-0.5,-50,0.3,-48,-0.3,-46,0.4,-44,-0.4,-42,0.2,-40,-0.6,-38,0.4,-36,-0.4,-34,0.3,-32,-0.2,-30,0.1,-28,-1.5,-27,-2,-26,-1.2,-24,-0.5,-22,0,-20,-0.5,-18,-0.8,-16,-0.4,-14,0,-12,0.5,-11,1.2,-10,0.4,-9,0,-7.5,0.5,-6,2,-4.5,1.9,-3,1.1,-1.5,0.2,0,0];
const B_LA_Qa1=[0,0,5,0,6.5,3.5,8,3.4,10,3.3,11.5,0,13.5,-3.8,14.5,-1,16,4.2,17,0,18,-3.9,19,0,19.5,3.5,22,3.2,23,0,24.5,-3,26,-2.2,28,-2,30,-1.9,31.5,3.6,32.5,2.5,33.5,3,35,0.2,36.5,2.8,37.5,0.5,38.7,3,40,0.1,42,0.2,43,2,44,0,46,-2,48,-0.5,50,2,53,1.9,56,2,57,1.8,58.5,0,61,-3.6,62,-2.5,63,-2,65,-0.5,67,-0.3,72,0,77,0.1,78.5,-2,79.7,-3,81,-2.2,82,0,83,2,84.5,1.5,86,-2,87.5,-1.5,89,2.3,91,2,93,1,95,0.2,97,0];
const B_LA_Qa2=[0,0.1,5.5,0,7,3.4,9.5,3.2,10.5,3.3,12,-0.5,13.8,-3.7,15,0.5,16.3,4,17.3,-0.5,18.3,-3.8,19.3,0.5,20,3.4,22.3,3.1,23.3,-0.5,24.8,-3,26.5,-2,30.3,-1.8,31.8,3.4,33,2.3,34,2.9,35.3,0,37,2.6,38,0.4,39,2.9,40.5,0.2,43.3,1.8,44.5,-0.5,46.3,-1.9,48.5,0,50.5,2,55,1.9,57.5,1.8,59,-0.5,60.8,-3.5,62.5,-2.3,64.5,-0.6,68,-0.2,77.5,0.1,79.3,-2.8,81,-2,82.3,0.5,83.3,1.9,84.8,1.4,85.8,-1.8,87.2,-1.8,88.5,1.8,90.5,2.1,93,0.8,97,0];
const B_LA_Fa1=[0,0,5.5,0.1,7,3.4,10.5,3.2,12,0,14,-3.8,15,-0.5,16.5,4.1,17.5,0,18.5,-3.9,19.5,0.5,20,3.4,22.5,3.3,23.5,0,25,-3.1,26.5,-2.1,30.5,-1.9,32,3.5,33,2.4,34,3,35.5,0,37,2.7,38,0.5,39.2,3,40.5,0,43.5,2,44.5,0,46.5,-2.1,48.5,-0.6,50.5,2.1,56,2,58,1.9,59.5,0,61.5,-3.7,63,-2.2,65.5,-0.5,70,-0.1,78,0.1,79.2,-2.2,80.5,-3.1,82,-2.3,83,0,84,2,85,1.6,86.3,-1,87.5,-2.2,88.5,-2,90,2,91.5,2.2,93.5,1.2,96,0.2,97,0];

// Longitudinal acceleration, Driver A
const A_LO_Qp1=[-120,0.3,-118,0.1,-116,0.5,-114,-0.3,-112,0.6,-110,-0.5,-108,0.8,-106,-0.6,-104,0.9,-102,-0.2,-100,1,-98,-0.8,-96,0.7,-94,-0.5,-92,1,-90,-0.7,-88,0.9,-86,-0.3,-84,1,-82,-0.8,-80,0.8,-78,-0.2,-76,1,-74,-0.9,-72,0.6,-70,-1.5,-68,0.9,-66,-1.8,-64,1,-62,-1.2,-60,0.8,-58,-1.5,-56,1.2,-54,-0.5,-52,1.3,-50,-2.3,-49,0.5,-47,1,-45,-0.8,-43,0.9,-41,-1,-40,-2.4,-39,0.3,-37,0.8,-35,-1.2,-33,0.6,-31,-1.5,-29,0.5,-27,0.2,-25,0.3,-23,0.2,-21,0.3,-19,0.1,-17,-0.3,-15,-1.5,-13.6,-2.8,-12.5,-1,-11,0.2,-9,0.8,-8,1.3,-7,1,-5,0.8,-3,0.6,-1,0.5,0,0.4];
const A_LO_Qp2=[-120,0.4,-118,-0.2,-116,0.2,-114,0.8,-112,-0.4,-110,0.5,-108,-1,-106,0.9,-104,-0.3,-102,0.7,-100,-1,-98,1,-96,-0.8,-94,1,-92,-0.4,-90,0.8,-88,-1,-86,1.1,-84,-0.6,-82,0.9,-80,-1,-78,1.1,-76,-0.4,-74,1,-72,-1.8,-71,0.5,-69,1,-67,-0.8,-65,1.1,-63,-1.5,-61,0.5,-59,1.2,-57,1.3,-55,0.5,-53,1,-51,0.8,-49,1.3,-47,0.8,-45,1.2,-43,0.8,-41,1,-39,-1.2,-38,0.5,-36,-1.4,-34,0.6,-32,0.3,-30,-1.5,-29,0.4,-27,0.6,-25,-0.4,-23,0.3,-21,-0.6,-19,0.2,-17,0,-15,-1.2,-13.5,-2.5,-12.5,-0.5,-11,0.3,-9,0.9,-8,1.2,-6,0.9,-4,0.7,-2,0.5,0,0.4];
const A_LO_Qp3=[-120,0.2,-117,0.5,-115,-0.2,-113,0.7,-111,-0.6,-109,0.6,-107,-0.9,-105,0.8,-103,-0.4,-101,0.9,-99,-0.6,-97,1,-95,-0.9,-93,0.8,-91,-0.4,-89,1,-87,-0.9,-85,0.7,-83,-0.5,-81,1,-79,-0.8,-77,0.6,-75,-1,-73,0.8,-71,-1.3,-69,0.9,-67,-2,-66,0.5,-64,1,-62,-1.6,-60,0.7,-58,-2.3,-57,0.6,-55,1,-53,-1,-51,0.6,-49,-1.2,-47,0.6,-45,0.2,-43,0.5,-41,0.3,-39,0.4,-37,0.3,-35,0.5,-33,0.4,-31,0.3,-29,0.4,-27,-1.5,-26,0.4,-24,0.2,-22,0.3,-20,-0.8,-19,0.3,-17,0.2,-15,-0.5,-13.5,-2.6,-12.5,-0.8,-11,0.2,-9,0.8,-8,1.3,-6,0.9,-4,0.7,-2,0.5,0,0.4];
const A_LO_Fp1=[-120,0.2,-118,-0.3,-116,0.4,-114,-0.6,-112,0.5,-110,-0.4,-108,1.2,-106,-0.5,-104,0.8,-102,-0.8,-100,0.9,-98,-0.3,-96,1,-94,-0.7,-92,0.6,-90,-1,-88,0.9,-86,-0.6,-84,1,-82,-0.5,-80,0.8,-78,-0.8,-76,1.1,-74,-0.5,-72,0.9,-70,-1.3,-68,0.8,-66,-2,-64,0.9,-62,-1.5,-60,1,-58,-1.8,-56,0.5,-54,-2.2,-53,0.4,-51,1.2,-49,0.6,-47,1,-45,-0.5,-43,0.8,-41,-1,-40,-2.4,-39,0.2,-37,0.7,-35,-0.8,-33,0.5,-31,-0.5,-29,0.3,-27,0.4,-25,0.2,-23,0.3,-21,0.1,-19,0.3,-17,0,-15,-1.5,-13.5,-3,-12.5,-1.2,-11,0.1,-9,0.7,-8,1.2,-6,0.9,-4,0.7,-2,0.5,0,0.4];
const A_LO_Fp2=[-120,0.5,-118,0.2,-116,-0.5,-114,0.6,-112,-0.2,-110,0.7,-108,-0.6,-106,0.9,-104,-1,-102,0.8,-100,-0.5,-98,1,-96,-0.9,-94,0.7,-92,-0.8,-90,1,-88,-0.4,-86,0.8,-84,-1,-82,1,-80,-0.6,-78,0.9,-76,-1,-74,0.8,-72,-1.6,-70,1,-68,-1.2,-66,0.8,-64,-1.9,-62,0.6,-60,-1.3,-58,1,-56,-1.6,-55,-2,-54,0.4,-52,1.2,-50,0.8,-48,1,-46,0.6,-44,-1.2,-42,0.4,-40,-1.6,-39,0.3,-37,0.5,-35,0.2,-33,-1,-31,0.4,-29,0.2,-27,0.3,-25,0.2,-23,0.4,-21,0.3,-19,0.2,-17,0.1,-15,-1.2,-13.5,-2.8,-12.5,-0.8,-11,0.2,-9,0.8,-8,1.2,-6,0.9,-4,0.7,-2,0.5,0,0.4];
const A_LO_Qa1=[0,0.4,3,0.3,6,0.2,7,-0.5,8,-2,9,-0.5,10,0.4,11,0.5,12,0.7,13,0,14,0.8,15,0.5,16,0.9,17,-0.6,18,0.7,19,0.6,20,0.9,21,0,22,-0.5,23,0.5,25,0.6,28,0.5,31,0.4,33,0.3,33.5,-1.5,34.5,-2.5,35,-0.5,35.5,-1.5,36.5,0.5,38,1,40,0.6,42,0.3,42.5,-1.5,43.2,-3.2,44,-1.5,45,0.5,46.5,1.3,48,1.1,50,0.9,53,0.7,56,0.5,58,0.4,58.5,-0.8,59.5,-1.7,60.5,-0.5,61,-1.3,62,0.2,64,0.8,66,0.7,70,0.5,75,0.4,79,0.3,81.5,0.3,82,-2,82.6,-3.4,83.5,-2.5,84.5,-0.5,85.5,0.8,86.5,1.3,88,1,90,0.8,93,0.5,95,0.4,97,0.3];
const A_LO_Qa2=[0,0.3,4,0.3,7,0,8.3,-1.8,9.5,0,11,0.5,12.5,0.6,13.5,-0.2,15,0.8,17,-0.4,18.5,0.8,20.5,0.8,22.5,-0.4,24,0.6,28,0.6,32,0.4,33.8,-1.2,34.8,-2.3,35.8,-1,37,0.6,38.5,1,41,0.5,42.8,-1,43.6,-3,44.5,-1,45.5,0.8,47,1.3,49,1,52,0.8,55,0.6,58.3,0.4,59,-1.2,60,-1.5,61.3,-1,62.5,0.4,64.5,0.8,68,0.6,74,0.4,80,0.3,82.2,0.2,82.8,-3.2,83.8,-2,85,0.3,86,1,87,1.3,89,0.9,92,0.6,95,0.4,97,0.3];
const A_LO_Fa1=[0,0.4,6,0.3,7.5,-0.5,8.5,-2,9.5,-0.5,10.5,0.4,12.5,0.7,13.5,0,14.5,0.8,17.5,-0.5,19,0.7,21,0.8,22.5,-0.5,24,0.5,28,0.6,33,0.4,34,-1,35,-2.3,36,-1.5,37,0.5,38.5,1.1,41,0.5,43,0.2,43.8,-2,44.3,-3.1,45,-2,46,0.3,47.5,1.3,50,1,54,0.7,58.8,0.5,59.8,-1,60.8,-1.7,61.5,-1.2,62.5,0.2,65,0.9,68,0.7,75,0.4,82,0.3,83,0.2,83.6,-2.5,84.3,-3.2,85.5,-2,86.5,-0.5,88,0.8,89.5,1.3,91,1,94,0.6,97,0.4];
// Longitudinal acceleration, Driver B
const B_LO_Qp1=[-120,0.2,-118,-0.5,-116,0.4,-114,-0.3,-112,0.6,-110,-0.4,-108,0.7,-106,-0.2,-104,0.6,-102,-0.6,-100,0.5,-98,-0.3,-96,0.8,-94,-0.7,-92,0.5,-90,-1,-88,0.6,-86,-0.5,-84,0.8,-82,-0.8,-80,0.5,-78,-1,-76,0.8,-74,-0.6,-72,0.9,-70,-1.2,-68,0.6,-66,-1,-64,1,-62,-1.5,-60,0.9,-58,-1.2,-56,1.1,-54,-1.8,-52,0.8,-50,1.1,-49,1.3,-47,-0.8,-45,0.9,-43,-1.2,-41,0.6,-39,-1,-37,0.7,-35,-0.8,-33,0.5,-31,-1.2,-29,0.6,-27,-0.5,-25,0.4,-23,-0.8,-21,0.5,-19,-0.6,-17,0.3,-15,-1.5,-14,-2,-13,-0.5,-11,0.3,-9,0.8,-7.3,1.2,-5,0.8,-3,0.5,0,0.3];
const B_LO_Qp2=[-120,-0.2,-118,0.4,-116,-0.5,-114,0.5,-112,-0.2,-110,0.6,-108,-0.6,-106,0.8,-104,-0.3,-102,0.5,-100,-0.8,-98,0.7,-96,-0.4,-94,0.6,-92,-0.8,-90,0.8,-88,-0.5,-86,0.6,-84,-1,-82,0.7,-80,-0.6,-78,0.9,-76,-0.9,-74,0.7,-72,-1.1,-70,0.8,-68,-1.3,-66,0.9,-64,-1,-62,1.1,-60,-1.3,-58,1.2,-56,-0.8,-54,1,-52,-1.5,-50,1,-48,-0.5,-46,1.2,-44,-1,-42,0.9,-40,-1.4,-38,0.8,-36,-0.6,-34,0.7,-32,-1,-30,0.5,-28,-0.8,-26,0.5,-24,-1,-22,0.4,-20,-1.3,-18,0.3,-16,-0.8,-14,-1.5,-13,-0.3,-11,0.4,-9,0.9,-7.3,1.3,-5,0.9,-3,0.5,0,0.3];
const B_LO_Fp1=[-120,0,-118,-1.8,-117,-1.5,-116,0.2,-114,0.8,-112,-0.4,-110,0.5,-108,-0.6,-106,0.9,-104,-0.3,-102,0.5,-100,-0.8,-98,0.6,-96,-0.5,-94,0.5,-92,-1,-90,0.3,-88,-0.6,-86,0.5,-84,-0.9,-82,0.7,-80,-0.4,-78,0.6,-76,-1,-74,0.8,-72,-0.8,-70,0.5,-68,-0.9,-66,0.7,-64,-1.2,-62,0.8,-60,-1,-58,0.9,-56,-1.5,-54.5,-2.4,-53,0.5,-51,0.9,-49,-0.8,-47,0.6,-45,-1,-43,0.5,-41,-1.1,-39,0.4,-37,-0.8,-35,0.3,-33,-1.2,-31,0.4,-29,-0.6,-27,0.5,-25,-0.5,-23,0.3,-21,-0.8,-19,0.2,-17,-0.6,-15,-1.5,-13.5,-2.9,-12.5,-0.8,-11,0.2,-9,0.8,-7.3,1.2,-5,0.8,-3,0.5,0,0.3];
const B_LO_Qa1=[0,0.3,5,0.2,6.5,-0.5,7.5,-2.1,8.5,-0.5,10,0.8,12,0.5,13,0,15,0.8,16,-0.5,17.5,0.6,20,0.8,21,-0.3,22.5,0.5,24,0.6,28,0.5,32,0.3,34.5,-1,35.5,-2.3,36.3,-1,37.5,1,40,0.6,42,0.3,43,-1.5,43.5,-3.1,44.5,-1.5,45.5,0.5,47,1.3,50,1,54,0.6,58,0.3,59.5,-0.8,60.5,-1.6,61.5,-0.3,64,0.8,68,0.6,75,0.4,81,0.3,82,-2,82.5,-3.4,83.3,-3.3,84.5,-1,86,0.8,88,1.3,90,1,93,0.6,97,0.3];
const B_LO_Qa2=[0,0.2,6,0.1,7.8,-1.8,9,0.2,10.5,0.7,13.3,-0.2,15.5,0.7,16.5,-0.3,20.5,0.7,21.5,-0.4,24.5,0.5,30,0.4,34.8,-0.8,35.8,-2.2,37,0.2,38,0.9,42.5,0.2,43.3,-2.8,44,-2,45.3,0.2,47.5,1.2,52,0.8,58.5,0.3,60,-1.5,61,-1,62,0.2,64.5,0.7,72,0.4,81.5,0.2,82.3,-3.2,83.5,-3,85,-0.5,86.5,1,88.5,1.2,92,0.7,97,0.3];
const B_LO_Fa1=[0,0.3,6.5,0.2,7.8,-2,9,0,10.5,0.8,13.5,0,15.5,0.8,16.5,-0.4,20.5,0.8,21.5,-0.3,24.5,0.6,32,0.3,35,-1,36,-2.3,37,-0.5,38,1,42.5,0.3,43.5,-2.5,44,-3.1,45,-1.5,46,0.3,47.5,1.3,52,0.9,58.5,0.3,60,-1,61,-1.7,62,-0.5,64.5,0.8,70,0.5,82,0.3,83,-1.5,84.5,-3.3,85.5,-2,86.5,0,88.5,1.3,91,1,94,0.6,97,0.3];

// Axis and label text
const X_TICKS_LEFT=[-120,-100,-80,-60,-40,-20,0,20,40,60,80,100];
const X_TICKS_RIGHT=[-100,-80,-60,-40,-20,0,20,40,60,80,100];
const X_MINOR=[-110,-90,-70,-50,-30,-10,10,30,50,70,90];
const DRIVERS=['Driver A','Driver B'];
const SERIES=['Free practice','Qualify'];

// ---------- CHART ----------
const W=1165,H=875;
const COLS=[[88,612],[625,1149]];
const ROWS=[[66,177],[195,305],[323,433],[451,561],[579,689],[707,817]];
const FONT='"Liberation Sans", Arial, Helvetica, sans-serif';
const BLUE=['#2f3e9c','#3a4cad','#34449f'];
const RED=['#ee3a22','#f25338','#ef4429'];
const GRID='#b9b9b9';

function xy(a){const x=[],y=[];for(let i=0;i<a.length;i+=2){x.push(a[i]);y.push(a[i+1]);}return {x,y};}

const ROW_CFG=[
 {range:[80,200],tickvals:[80,120,160,200],minor:[100,140,180]},
 {range:[-200,200],tickvals:[-180,-90,0,90,180]},
 {range:[0,100],tickvals:[0,20,40,60,80,100]},
 {range:[0,300],tickvals:[0,100,200,300]},
 {range:[-5,5],tickvals:[-4,-2,0,2,4]},
 {range:[-5,5],tickvals:[-4,-2,0,2,4]}
];
const panels=[
 {f:[A_HR_F1,A_HR_F2,A_HR_F3,A_HR_F4],q:[A_HR_Q1,A_HR_Q2,A_HR_Q3,A_HR_Q4]},
 {f:[B_HR_F1,B_HR_F2,B_HR_F3,B_HR_F4,B_HR_F5],q:[B_HR_Q1,B_HR_Q2,B_HR_Q3,B_HR_Q4,B_HR_Q5]},
 {f:[A_ST_Fp1.concat(A_ST_Fa1),A_ST_Fp2.concat(A_ST_Fa2)],q:[A_ST_Qp1.concat(A_ST_Qa1),A_ST_Qp2.concat(A_ST_Qa2),A_ST_Qp3.concat(A_ST_Qa1)]},
 {f:[B_ST_Fp1.concat(B_ST_Fa1),B_ST_Fp2.concat(B_ST_Fa1)],q:[B_ST_Qp1.concat(B_ST_Qa1),B_ST_Qp2.concat(B_ST_Qa2)]},
 {f:[A_BR_Fp1.concat(A_BR_Fa1),A_BR_Fp2.concat(A_BR_Fa2)],q:[A_BR_Qp1.concat(A_BR_Qa1),A_BR_Qp2.concat(A_BR_Qa2)]},
 {f:[B_BR_Fp1.concat(B_BR_Fa1)],q:[B_BR_Qp1.concat(B_BR_Qa1),B_BR_Qp2.concat(B_BR_Qa2)]},
 {f:[A_SP_Fp1.concat(A_SP_Fa1),A_SP_Fp2.concat(A_SP_Fa2),A_SP_Fp3.concat(A_SP_Fa1)],q:[A_SP_Qp1.concat(A_SP_Qa1),A_SP_Qp2.concat(A_SP_Qa2),A_SP_Qp3.concat(A_SP_Qa1)]},
 {f:[B_SP_Fp1.concat(B_SP_Fa1),B_SP_Fp2.concat(B_SP_Fa1),B_SP_Fp3.concat(B_SP_Fa1)],q:[B_SP_Qp1.concat(B_SP_Qa1),B_SP_Qp2.concat(B_SP_Qa2),B_SP_Qp3.concat(B_SP_Qa1)]},
 {f:[A_LA_Fp1.concat(A_LA_Fa1),A_LA_Fp2.concat(A_LA_Fa2)],q:[A_LA_Qp1.concat(A_LA_Qa1),A_LA_Qp2.concat(A_LA_Qa2),A_LA_Qp3.concat(A_LA_Qa1)]},
 {f:[B_LA_Fp1.concat(B_LA_Fa1)],q:[B_LA_Qp1.concat(B_LA_Qa1),B_LA_Qp2.concat(B_LA_Qa2)]},
 {f:[A_LO_Fp1.concat(A_LO_Fa1),A_LO_Fp2.concat(A_LO_Fa1)],q:[A_LO_Qp1.concat(A_LO_Qa1),A_LO_Qp2.concat(A_LO_Qa2),A_LO_Qp3.concat(A_LO_Qa1)]},
 {f:[B_LO_Fp1.concat(B_LO_Fa1)],q:[B_LO_Qp1.concat(B_LO_Qa1),B_LO_Qp2.concat(B_LO_Qa2)]}
];

const traces=[],shapes=[],annotations=[];
const layout={width:W,height:H,margin:{l:0,r:0,t:0,b:0},paper_bgcolor:'#fff',plot_bgcolor:'#fff',
 font:{family:FONT,color:'#222'},showlegend:true,
 legend:{x:620/W,y:1-316/H,xanchor:'left',yanchor:'top',bgcolor:'#fff',bordercolor:'#333',borderwidth:1,
  font:{family:FONT,size:16,color:'#222'},tracegroupgap:0,itemwidth:30}};

panels.forEach((p,i)=>{
 const row=Math.floor(i/2),col=i%2,k=i+1,s=(k===1?'':String(k));
 const xa='x'+s,ya='y'+s,cfg=ROW_CFG[row];
 layout['xaxis'+s]={domain:[COLS[col][0]/W,COLS[col][1]/W],anchor:ya,range:[-120,100],autorange:false,
  showline:true,linecolor:'#444',linewidth:1,zeroline:false,tickmode:'array',
  tickvals:col===0?X_TICKS_LEFT:X_TICKS_RIGHT,showticklabels:row===5,ticks:'inside',ticklen:5,tickcolor:'#444',
  tickfont:{family:FONT,size:13.5,color:'#333'},showgrid:true,gridcolor:GRID,griddash:'3px,2px',gridwidth:1,
  minor:{tickmode:'array',tickvals:X_MINOR,ticks:'inside',ticklen:5,tickcolor:'#444',showgrid:true,gridcolor:GRID,griddash:'3px,2px',gridwidth:1},
  fixedrange:true};
 const yax={domain:[1-ROWS[row][1]/H,1-ROWS[row][0]/H],anchor:xa,range:cfg.range,autorange:false,
  showline:true,linecolor:'#666',linewidth:1,zeroline:false,tickmode:'array',tickvals:cfg.tickvals,
  showticklabels:col===0,ticks:'',tickfont:{family:FONT,size:13.5,color:'#333'},
  showgrid:true,gridcolor:GRID,griddash:'3px,2px',gridwidth:1,fixedrange:true};
 if(cfg.minor) yax.minor={tickmode:'array',tickvals:cfg.minor,showgrid:true,gridcolor:GRID,griddash:'3px,2px',gridwidth:1,ticks:''};
 layout['yaxis'+s]=yax;
 // attack phase shading and t=0 divider
 shapes.push({type:'rect',xref:xa,yref:ya+' domain',x0:0,x1:100,y0:0,y1:1,fillcolor:'#e9e9e9',line:{width:0},layer:'below'});
 shapes.push({type:'line',xref:xa,yref:ya+' domain',x0:0,x1:0,y0:0,y1:1,line:{color:'#222',width:1},layer:'above'});
 p.f.forEach((a,j)=>{const d=xy(a);traces.push({type:'scatter',mode:'lines',x:d.x,y:d.y,xaxis:xa,yaxis:ya,
  line:{color:BLUE[j%3],width:2},showlegend:false,hoverinfo:'skip'});});
 p.q.forEach((a,j)=>{const d=xy(a);traces.push({type:'scatter',mode:'lines',x:d.x,y:d.y,xaxis:xa,yaxis:ya,
  line:{color:RED[j%3],width:2},showlegend:false,hoverinfo:'skip'});});
});

// legend entries
traces.push({type:'scatter',mode:'lines',x:[null],y:[null],xaxis:'x6',yaxis:'y6',name:SERIES[0],line:{color:'#3c66b8',width:2},showlegend:true,hoverinfo:'skip'});
traces.push({type:'scatter',mode:'lines',x:[null],y:[null],xaxis:'x6',yaxis:'y6',name:SERIES[1],line:{color:'#f07a3a',width:2},showlegend:true,hoverinfo:'skip'});

// header band with phase arrows
const yT=1-43/H,yB=1-61/H,yM=1-52/H;
[0,1].forEach(col=>{
 const xa=col===0?'x':'x2';
 shapes.push({type:'rect',xref:xa,yref:'paper',x0:0,x1:100,y0:1-62/H,y1:1-41/H,fillcolor:'#e9e9e9',line:{width:0},layer:'below'});
 [-120,0,100].forEach(v=>shapes.push({type:'line',xref:xa,yref:'paper',x0:v,x1:v,y0:yB,y1:yT,line:{color:'#222',width:1.3},layer:'above'}));
 [[-120,-108],[0,-12],[0,12],[100,88]].forEach(([t,h])=>annotations.push({xref:xa,yref:'paper',x:h,y:yM,axref:xa,ax:t,ayref:'pixel',ay:0,
  showarrow:true,arrowhead:2,arrowsize:1.1,arrowwidth:1.4,arrowcolor:'#222',text:''}));
 annotations.push({xref:xa,yref:'paper',x:-60,y:yM,xanchor:'center',yanchor:'middle',text:'Pre-attack phase',showarrow:false,font:{family:FONT,size:18,color:'#222'}});
 annotations.push({xref:xa,yref:'paper',x:50,y:yM,xanchor:'center',yanchor:'middle',text:'Attack phase',showarrow:false,font:{family:FONT,size:18,color:'#222'}});
 annotations.push({xref:'paper',yref:'paper',x:(col===0?345:888)/W,y:1-25/H,xanchor:'center',yanchor:'middle',text:DRIVERS[col],showarrow:false,
  font:{family:FONT,size:26,color:'#222'}});
});
annotations.push({xref:'paper',yref:'paper',x:629/W,y:1-858/H,xanchor:'center',yanchor:'middle',text:'Time&nbsp;&nbsp;&nbsp;[s]',showarrow:false,font:{family:FONT,size:24,color:'#222'}});

// y-axis titles
const YT=[
 [{t:'HR<br>[bpm]',x:33.5,y:121}],
 [{t:'Steering angle<br>[deg]',x:33.5,y:250}],
 [{t:'Brake<br>[%]',x:33.5,y:376}],
 [{t:'Speed<br>[km/h]',x:33.5,y:505}],
 [{t:'Lateral',x:22,y:615},{t:'Acc.&nbsp;&nbsp;&nbsp;&nbsp;&nbsp;[G]',x:45,y:628}],
 [{t:'Longitudinal',x:22,y:765},{t:'Acc.&nbsp;&nbsp;&nbsp;&nbsp;&nbsp;[G]',x:45,y:760}]
];
YT.forEach(list=>list.forEach(o=>annotations.push({xref:'paper',yref:'paper',x:o.x/W,y:1-o.y/H,xanchor:'center',yanchor:'middle',
 text:o.t,textangle:-90,showarrow:false,font:{family:FONT,size:18,color:'#222'}})));

layout.shapes=shapes;layout.annotations=annotations;
Plotly.newPlot('chart',traces,layout,{staticPlot:true,displayModeBar:false});
</script></body></html>
